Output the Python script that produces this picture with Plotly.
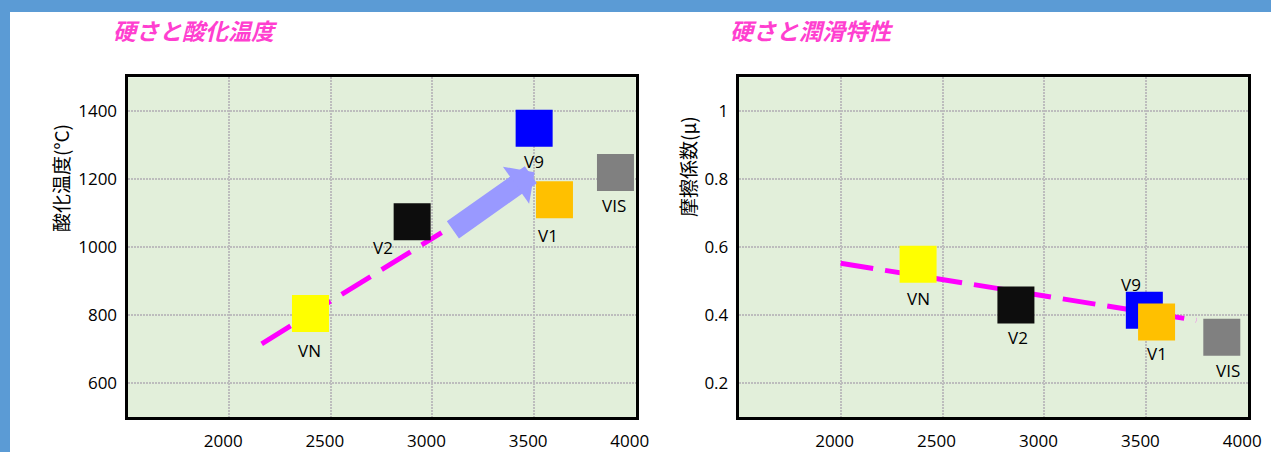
import plotly.graph_objects as go

# ---------------- data ----------------
names = ["VN", "V2", "V9", "V1", "VIS"]
colors = ["#FFFF00", "#0D0D0D", "#0000FF", "#FFC000", "#808080"]

# left chart: hardness vs oxidation temperature
hard_L = [2400, 2900, 3500, 3600, 3900]
oxid_L = [805, 1075, 1350, 1140, 1220]
trend_L_x = [2160, 3045]
trend_L_y = [716, 1043]
arrow_tail = (3093, 1048)
arrow_tip = (3502, 1221)

# right chart: hardness vs friction coefficient
hard_R = [2380, 2860, 3490, 3550, 3870]
fric_R = [0.55, 0.43, 0.415, 0.38, 0.335]
trend_R_x = [2000, 3745]
trend_R_y = [0.553, 0.385]

x_ticks = [2000, 2500, 3000, 3500, 4000]
yL_ticks = [600, 800, 1000, 1200, 1400]
yR_ticks = [0.2, 0.4, 0.6, 0.8, 1.0]
yR_ticktext = ["0.2", "0.4", "0.6", "0.8", "1"]

title_L = "硬さと酸化温度"
title_R = "硬さと潤滑特性"
ytitle_L = "酸化温度(°C)"
ytitle_R = "摩擦係数(μ)"

# label offsets (px) relative to marker centres
off_L = [(-1, -37), (-29, -26), (0, -33), (-6, -36), (-1, -33)]
off_R = [(0, -34), (2, -32), (-13, 26), (0, -31), (6, -33)]

# ---------------- layout geometry ----------------
W, H = 1271, 452
def px(x):
    return x / W
def py(y):
    return 1 - y / H

TICKFONT = dict(family="Open Sans, Noto Sans, sans-serif", size=17, color="#000000")
CJK = "Noto Sans CJK JP"
PINK = "#FF3FD0"
BG = "#E2EFDA"
GRID = "#BDBDBD"

fig = go.Figure()

# trend lines (behind markers)
fig.add_trace(go.Scatter(x=trend_L_x, y=trend_L_y, mode="lines",
                         line=dict(color="#FF00FF", width=5, dash="34px,13px"),
                         xaxis="x", yaxis="y", hoverinfo="skip", showlegend=False))
fig.add_trace(go.Scatter(x=trend_R_x, y=trend_R_y, mode="lines",
                         line=dict(color="#FF00FF", width=5, dash="33px,12px"),
                         xaxis="x2", yaxis="y2", hoverinfo="skip", showlegend=False))

for i, n in enumerate(names):
    fig.add_trace(go.Scatter(x=[hard_L[i]], y=[oxid_L[i]], mode="markers",
                             marker=dict(symbol="square", size=37, color=colors[i], line=dict(width=0)),
                             xaxis="x", yaxis="y", name=n, showlegend=False))
for i, n in enumerate(names):
    fig.add_trace(go.Scatter(x=[hard_R[i]], y=[fric_R[i]], mode="markers",
                             marker=dict(symbol="square", size=37, color=colors[i], line=dict(width=0)),
                             xaxis="x2", yaxis="y2", name=n, showlegend=False))

annotations = []
for i, n in enumerate(names):
    annotations.append(dict(x=hard_L[i], y=oxid_L[i], xref="x", yref="y", text=n,
                            showarrow=False, xshift=off_L[i][0], yshift=off_L[i][1],
                            font=TICKFONT))
    annotations.append(dict(x=hard_R[i], y=fric_R[i], xref="x2", yref="y2", text=n,
                            showarrow=False, xshift=off_R[i][0], yshift=off_R[i][1],
                            font=TICKFONT))

# big arrow
annotations.append(dict(x=arrow_tip[0], y=arrow_tip[1], xref="x", yref="y",
                        ax=arrow_tail[0], ay=arrow_tail[1], axref="x", ayref="y",
                        text="", showarrow=True, arrowhead=1, arrowsize=0.36,
                        arrowwidth=21, arrowcolor="#9999FF", standoff=0))

# titles
annotations.append(dict(x=px(111), y=py(30), xref="paper", yref="paper", xanchor="left",
                        yanchor="middle", showarrow=False, text="<b><i>" + title_L + "</i></b>",
                        font=dict(family=CJK, size=23, color=PINK)))
annotations.append(dict(x=px(728), y=py(30), xref="paper", yref="paper", xanchor="left",
                        yanchor="middle", showarrow=False, text="<b><i>" + title_R + "</i></b>",
                        font=dict(family=CJK, size=23, color=PINK)))
# y axis titles
annotations.append(dict(x=px(60), y=py(178), xref="paper", yref="paper", xanchor="center",
                        yanchor="middle", showarrow=False, text=ytitle_L, textangle=-90,
                        font=dict(family=CJK, size=19, color="#000000")))
annotations.append(dict(x=px(687), y=py(167), xref="paper", yref="paper", xanchor="center",
                        yanchor="middle", showarrow=False, text=ytitle_R, textangle=-90,
                        font=dict(family=CJK, size=19, color="#000000")))

shapes = [
    dict(type="rect", xref="paper", yref="paper", x0=0, x1=1, y0=py(12), y1=1,
         fillcolor="#5B9BD5", line=dict(width=0), layer="above"),
    dict(type="rect", xref="paper", yref="paper", x0=0, x1=px(10), y0=0, y1=1,
         fillcolor="#5B9BD5", line=dict(width=0), layer="above"),
]

common_x = dict(range=[1500, 4000], tickvals=x_ticks, showgrid=True, gridcolor=GRID,
                gridwidth=1.5, griddash="2px,1px", zeroline=False, showline=True, mirror=True,
                linecolor="#000000", linewidth=3, ticks="", tickfont=TICKFONT,
                ticklabelstandoff=6, ticklabelshift=-6, automargin=False, fixedrange=True)
common_y = dict(showgrid=True, gridcolor=GRID, gridwidth=1.5, griddash="2px,1px",
                zeroline=False, showline=True, mirror=True, linecolor="#000000", linewidth=3,
                ticks="", tickfont=TICKFONT, ticklabelstandoff=4, automargin=False, fixedrange=True)

fig.update_layout(
    width=W, height=H,
    margin=dict(l=0, r=0, t=0, b=0),
    paper_bgcolor="#FFFFFF", plot_bgcolor=BG,
    showlegend=False,
    xaxis=dict(domain=[px(127.5), px(635.8)], anchor="y", **common_x),
    yaxis=dict(domain=[py(417.2), py(77.3)], anchor="x", range=[500, 1500],
               tickvals=yL_ticks, **common_y),
    xaxis2=dict(domain=[px(738.7), px(1248.3)], anchor="y2", **common_x),
    yaxis2=dict(domain=[py(417.2), py(77.3)], anchor="x2", range=[0.1, 1.1],
                tickvals=yR_ticks, ticktext=yR_ticktext, **common_y),
    annotations=annotations,
    shapes=shapes,
)

fig.write_html("out.html", config={"displayModeBar": False},
               post_script="document.body.style.margin='0';document.body.style.overflow='hidden';")
